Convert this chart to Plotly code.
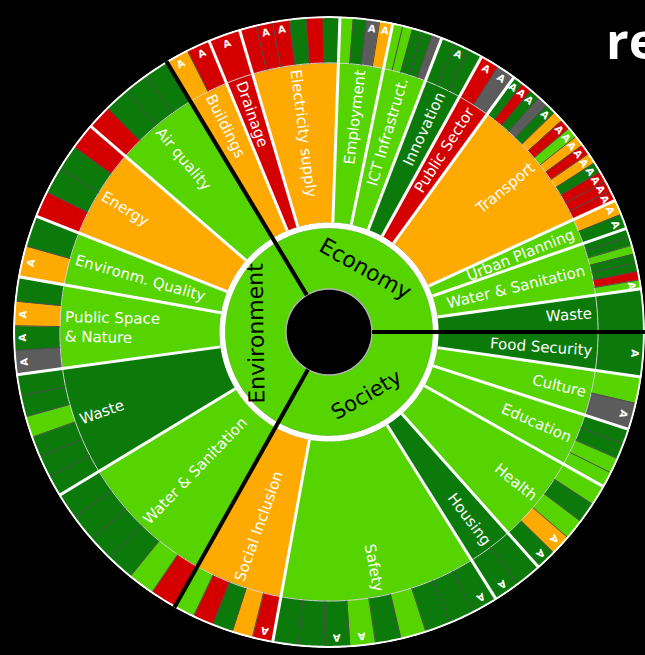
import math
import plotly.graph_objects as go

# ---------------- data ----------------
pillar_names = ["Economy", "Society", "Environment"]

economy_categories = ["Buildings", "Drainage", "Electricity supply", "Employment",
                      "ICT Infrastruct.", "Innovation", "Public Sector", "Transport",
                      "Urban Planning", "Water & Sanitation", "Waste"]
economy_spans = [8.6, 5.9, 18.5, 9.7, 9.3, 8.0, 7.0, 29.3, 5.5, 11.3, 7.9]
economy_status = ["O", "R", "O", "L", "L", "D", "R", "O", "L", "L", "D"]
economy_indicators = [
    ["OA", "RA"],
    ["RA"],
    ["R", "RA", "RA", "D", "R", "D"],
    ["L", "D", "XA", "OA"],
    ["L", "L", "D", "D", "X"],
    ["D", "DA", "D"],
    ["RA", "XA"],
    ["DA", "RA", "DA", "X", "DA", "O", "RA", "LA", "OA", "RA", "OA", "DA", "RA", "RA", "RA"],
    ["OA", "DA"],
    ["D", "D", "L", "D", "D", "R", "LA"],
    ["D"],
]

society_categories = ["Food Security", "Culture", "Education", "Health", "Housing",
                      "Safety", "Social Inclusion"]
society_spans = [8.2, 9.8, 11.4, 18.9, 9.7, 42.3, 19.0]
society_status = ["D", "L", "L", "L", "D", "L", "O"]
society_indicators = [
    ["DA"],
    ["L", "XA"],
    ["D", "D", "L", "L"],
    ["L", "D", "L", "OA", "DA"],
    ["D", "DA"],
    ["DA", "D", "D", "L", "D", "LA", "DA", "D", "D"],
    ["RA", "O", "D", "R", "L"],
]

environment_categories = ["Water & Sanitation", "Waste", "Public Space<br>& Nature",
                          "Environm. Quality", "Energy", "Air quality"]
environment_spans = [29.5, 23.4, 17.9, 11.5, 19.2, 18.2]
environment_status = ["L", "D", "L", "L", "O", "L"]
environment_indicators = [
    ["R", "L", "D", "D", "D", "D"],
    ["D", "D", "D", "L", "D", "D"],
    ["XA", "DA", "OA", "D"],
    ["OA", "D"],
    ["R", "D", "D", "R"],
    ["R", "D", "D", "D"],
]

title_fragment = "re"

# ---------------- style ----------------
COLORS = {"L": "#55d400", "D": "#0b7a0b", "O": "#ffaa00", "R": "#d40000", "X": "#5c5c5c"}
R_HOLE, R1_OUT, R2_IN, R2_OUT, R_OUT = 44, 106, 112, 275, 322
START = 329.0
FIG_W, FIG_H = 645, 655
CX, CY, RPX = 329.0, 332.0, 316.0
RMAX = 323.0
S = RPX / RMAX
FONT = "DejaVu Sans"
PILLAR_SIZES = [22, 21, 22]

CHAR_W = {" ": .318, "&": .780, ".": .318, "A": .684, "C": .698, "E": .632, "F": .575,
          "H": .752, "I": .295, "P": .603, "Q": .787, "S": .635, "T": .611, "U": .732,
          "W": .989, "a": .613, "b": .635, "c": .550, "d": .635, "e": .615, "f": .352,
          "g": .635, "h": .634, "i": .278, "l": .278, "m": .974, "n": .634, "o": .612,
          "p": .635, "r": .411, "s": .521, "t": .392, "u": .634, "v": .592, "w": .818,
          "y": .592, "k": .579}


def text_width(s, size):
    return max(sum(CHAR_W.get(ch, 0.6) for ch in line) for line in s.split("<br>")) * size


def to_paper(theta, r):
    a = math.radians(theta)
    x = CX + r * S * math.sin(a)
    y = CY - r * S * math.cos(a)
    return x / FIG_W, 1 - y / FIG_H


pillars = [
    (pillar_names[0], economy_categories, economy_spans, economy_status, economy_indicators),
    (pillar_names[1], society_categories, society_spans, society_status, society_indicators),
    (pillar_names[2], environment_categories, environment_spans, environment_status,
     environment_indicators),
]

ring1 = {"theta": [], "width": [], "color": []}
ring2 = {"theta": [], "width": [], "color": []}
ring3 = {"theta": [], "width": [], "color": []}
a_marks, thin_sep, cat_sep, pil_sep = [], [], [], []
cat_labels, pil_labels = [], []

t = START
for pname, cats, spans, stat, inds in pillars:
    p0 = t
    pil_sep.append(t)
    for cname, span, st, ind in zip(cats, spans, stat, inds):
        c0 = t
        cat_sep.append(c0)
        ring2["theta"].append(c0 + span / 2)
        ring2["width"].append(span)
        ring2["color"].append(COLORS[st])
        w = span / len(ind)
        for k, code in enumerate(ind):
            th = c0 + w * (k + 0.5)
            ring3["theta"].append(th)
            ring3["width"].append(w)
            ring3["color"].append(COLORS[code[0]])
            if code.endswith("A"):
                a_marks.append(th)
            if k:
                thin_sep.append(c0 + w * k)
        cat_labels.append((cname, c0 + span / 2))
        t += span
    ring1["theta"].append((p0 + t) / 2)
    ring1["width"].append(t - p0)
    ring1["color"].append(COLORS["L"])
    pil_labels.append((pname, (p0 + t) / 2))


def ring(d, base, top):
    n = len(d["theta"])
    return go.Barpolar(theta=[x % 360 for x in d["theta"]], width=d["width"],
                       r=[top - base] * n, base=[base] * n,
                       marker=dict(color=d["color"], line=dict(color=d["color"], width=0.6)),
                       hoverinfo="skip")


def spokes(thetas, r0, r1, color, width):
    th, rr = [], []
    for a in thetas:
        th += [a % 360, a % 360, None]
        rr += [r0, r1, None]
    return go.Scatterpolar(theta=th, r=rr, mode="lines", cliponaxis=False,
                           line=dict(color=color, width=width), hoverinfo="skip")


def circle(r, color, width):
    th = [i * 0.5 for i in range(721)]
    return go.Scatterpolar(theta=th, r=[r] * len(th), mode="lines", cliponaxis=False,
                           line=dict(color=color, width=width), hoverinfo="skip")


fig = go.Figure()
fig.add_trace(ring(ring1, R_HOLE, R1_OUT))
fig.add_trace(ring(ring2, R2_IN, R2_OUT))
fig.add_trace(ring(ring3, R2_OUT, R_OUT))
fig.add_trace(circle((R1_OUT + R2_IN) / 2, "white", (R2_IN - R1_OUT) * S))
fig.add_trace(circle(R2_OUT, "#d8d8d8", 1))
fig.add_trace(circle(R_HOLE, "#b0b0b0", 1.5))
fig.add_trace(spokes(thin_sep, R2_OUT, R_OUT, "#505050", 1))
fig.add_trace(spokes(cat_sep, R2_IN, R_OUT, "white", 3))
fig.add_trace(circle(R_OUT, "white", 2.2))
fig.add_trace(spokes(pil_sep, R_HOLE, R_OUT + 1, "black", 4))

annotations = []
LABEL_SIZE = 15
LABEL_END = 270
for name, th in cat_labels:
    th = th % 360
    w = text_width(name, LABEL_SIZE) / S
    rc = LABEL_END - w / 2
    x, y = to_paper(th, rc)
    ang = th - 90 if th < 180 else th - 270
    annotations.append(dict(x=x, y=y, xref="paper", yref="paper", text=name, showarrow=False,
                            textangle=ang, xanchor="center", yanchor="middle", align="left",
                            font=dict(family=FONT, size=LABEL_SIZE, color="white")))

for (name, th), size in zip(pil_labels, PILLAR_SIZES):
    th = th % 360
    x, y = to_paper(th, (R_HOLE + R1_OUT) / 2)
    ang = th - 180 if 90 < th < 250 else (th if th <= 180 else th - 360)
    annotations.append(dict(x=x, y=y, xref="paper", yref="paper", text=name, showarrow=False,
                            textangle=ang, xanchor="center", yanchor="middle",
                            font=dict(family=FONT, size=size, color="black")))

for th in a_marks:
    th = th % 360
    x, y = to_paper(th, 313)
    ang = th if th <= 180 else th - 360
    annotations.append(dict(x=x, y=y, xref="paper", yref="paper", text="<b>A</b>",
                            showarrow=False, textangle=ang, xanchor="center", yanchor="middle",
                            font=dict(family=FONT, size=10, color="white")))

annotations.append(dict(x=604 / FIG_W, y=1 - 76 / FIG_H, xref="paper", yref="paper",
                        text="<b>" + title_fragment + "</b>", showarrow=False,
                        xanchor="left", yanchor="bottom",
                        font=dict(family="Open Sans", size=50, color="white")))

fig.update_layout(
    width=FIG_W, height=FIG_H,
    margin=dict(l=0, r=0, t=0, b=0),
    paper_bgcolor="black", plot_bgcolor="black",
    showlegend=False,
    annotations=annotations,
    polar=dict(
        domain=dict(x=[(CX - RPX) / FIG_W, (CX + RPX) / FIG_W],
                    y=[1 - (CY + RPX) / FIG_H, 1 - (CY - RPX) / FIG_H]),
        bgcolor="black", bargap=0, hole=0,
        radialaxis=dict(range=[0, RMAX], visible=False, showgrid=False),
        angularaxis=dict(direction="clockwise", rotation=90, visible=False, showgrid=False),
    ),
)

fig.write_html(
    "out.html",
    config={"displayModeBar": False},
    post_script="document.body.style.margin='0';document.body.style.background='black';"
                "document.body.style.overflow='hidden';",
)
